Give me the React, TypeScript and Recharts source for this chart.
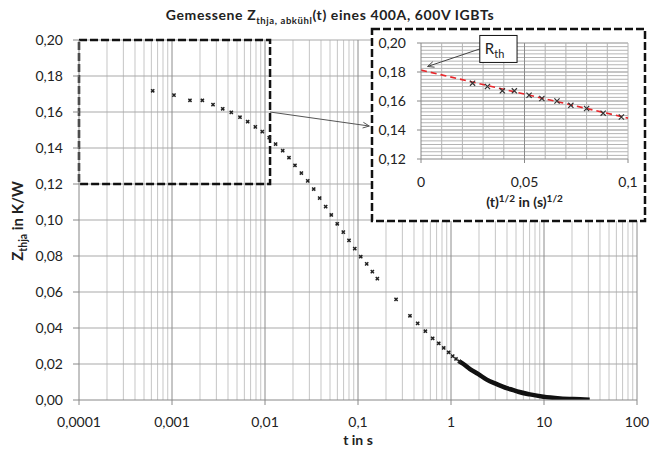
import React from 'react';
import { ComposedChart, Scatter, Line, XAxis, YAxis, ReferenceLine } from 'recharts';

const FONT = 'Lato, "Open Sans", "DejaVu Sans", sans-serif';

// ---- main chart data: cooling curve Z_thja(t) ----
const tValues = [
  0.00062, 0.00105, 0.00156, 0.00212, 0.00276, 0.00351, 0.00434, 0.00538, 0.00651, 0.00787,
  0.00935, 0.0111, 0.0130, 0.0155, 0.0181, 0.0210, 0.0246, 0.0288, 0.0334, 0.0387,
  0.0449, 0.0516, 0.0598, 0.0695, 0.0800, 0.0923, 0.107, 0.124, 0.1426, 0.1614,
  0.2566, 0.362, 0.438, 0.530, 0.635, 0.738, 0.835, 0.944, 1.043, 1.132, 1.228,
];
const zValues = [
  0.1718, 0.1694, 0.1665, 0.1665, 0.1641, 0.1618, 0.1598, 0.1571, 0.1546, 0.1517,
  0.1491, 0.1457, 0.1422, 0.1385, 0.1346, 0.1304, 0.1261, 0.1217, 0.1172, 0.1122,
  0.1074, 0.1028, 0.0979, 0.0933, 0.0887, 0.0841, 0.0796, 0.0756, 0.0713, 0.0674,
  0.0559, 0.0468, 0.0426, 0.0382, 0.0343, 0.0315, 0.0289, 0.0265, 0.0244, 0.0228, 0.0215,
];
// dense tail (markers merge into a thick line)
const tailT = [1.228, 1.36, 1.60, 1.97, 2.42, 3.10, 3.97, 4.68, 5.30, 7.07, 9.83, 14.9, 20.7, 31.0];
const tailZ = [0.0215, 0.0200, 0.0172, 0.0144, 0.0113, 0.0088, 0.0066, 0.0055, 0.0046, 0.0031, 0.0018, 0.0009, 0.0005, 0.0002];

const xTicks = [0.0001, 0.001, 0.01, 0.1, 1, 10, 100];
const xTickLabels = ['0,0001', '0,001', '0,01', '0,1', '1', '10', '100'];
const yTicks = [0, 0.02, 0.04, 0.06, 0.08, 0.1, 0.12, 0.14, 0.16, 0.18, 0.2];
const yTickLabels = ['0,00', '0,02', '0,04', '0,06', '0,08', '0,10', '0,12', '0,14', '0,16', '0,18', '0,20'];
const decades = [0.0001, 0.001, 0.01, 0.1, 1, 10];
const minorMultipliers = [2, 3, 4, 5, 6, 7, 8, 9];
const decadeLines = [0.001, 0.01, 0.1, 1, 10, 100];

const zoomBox = { t1: 0.0001, t2: 0.01133, z1: 0.12, z2: 0.2 };
const zoomArrowT = [0.01133, 0.1323];
const zoomArrowZ = [0.16, 0.1522];

// ---- inset data: Z vs sqrt(t) ----
const insetX = [0.0249, 0.0321, 0.0393, 0.0451, 0.0522, 0.0584, 0.0657, 0.0724, 0.0800, 0.0880, 0.0968];
const insetZ = [0.1723, 0.1700, 0.1670, 0.1670, 0.1640, 0.1617, 0.1600, 0.1570, 0.1548, 0.1516, 0.1490];
const fitX = [0, 0.1];
const fitZ = [0.1813, 0.1482];
const insetXTicks = [0, 0.05, 0.1];
const insetXTickLabels = ['0', '0,05', '0,1'];
const insetYTicks = [0.12, 0.14, 0.16, 0.18, 0.2];
const insetYTickLabels = ['0,12', '0,14', '0,16', '0,18', '0,20'];
const insetVGrid = [0.01, 0.02, 0.03, 0.04, 0.05, 0.06, 0.07, 0.08, 0.09, 0.1];
const insetHGridStep = 0.0025;
const rthBox = { x1: 0.0284, x2: 0.0464, y1: 0.1866, y2: 0.2052 };
const rthArrowX = [0.0284, 0.0032];
const rthArrowZ = [0.1959, 0.1838];

const mainData = tValues.map((t, i) => ({ t, z: zValues[i] }));
const tailData = tailT.map((t, i) => ({ t, z: tailZ[i] }));
const minorX = decades.flatMap((d) => minorMultipliers.map((m) => +(d * m).toPrecision(3)));
const insetData = insetX.map((x, i) => ({ x, z: insetZ[i] }));
const fitData = fitX.map((x, i) => ({ x, z: fitZ[i] }));
const insetHGrid: number[] = [];
for (let i = 1; i <= 32; i++) insetHGrid.push(+(0.12 + i * insetHGridStep).toFixed(4));

const fmtFrom = (ticks: number[], labels: string[]) => (v: number) => {
  const i = ticks.findIndex((t) => Math.abs(t - v) < 1e-9);
  return i >= 0 ? labels[i] : String(v);
};

const arrowShape = (color: string) => (props: any) => {
  const { x1, y1, x2, y2 } = props;
  const ang = Math.atan2(y2 - y1, x2 - x1);
  const L = 7;
  const a = 0.42;
  const p1x = x2 - L * Math.cos(ang - a);
  const p1y = y2 - L * Math.sin(ang - a);
  const p2x = x2 - L * Math.cos(ang + a);
  const p2y = y2 - L * Math.sin(ang + a);
  return (
    <g>
      <line x1={x1} y1={y1} x2={x2} y2={y2} stroke={color} strokeWidth={1} />
      <path d={`M${p1x},${p1y}L${x2},${y2}L${p2x},${p2y}`} fill="none" stroke={color} strokeWidth={1} />
    </g>
  );
};

// a segment given by two diagonal corners, drawn as a dashed rectangle
const dashedBoxShape = (props: any) => {
  const { x1, y1, x2, y2 } = props;
  const x = Math.min(x1, x2);
  const y = Math.min(y1, y2);
  return (
    <rect
      x={x}
      y={y}
      width={Math.abs(x2 - x1)}
      height={Math.abs(y2 - y1)}
      fill="none"
      stroke="#111"
      strokeWidth={2.5}
      strokeDasharray="8 3"
    />
  );
};

const rthShape = (props: any) => {
  const { x1, y1, x2, y2 } = props;
  const x = Math.min(x1, x2);
  const y = Math.min(y1, y2);
  return (
    <g>
      <rect x={x} y={y} width={Math.abs(x2 - x1)} height={Math.abs(y2 - y1)} fill="#fff" stroke="#111" strokeWidth={1} />
      <text x={x + 5} y={y + 19} fontFamily={FONT} fontSize={15} fill="#222">
        R<tspan dy={4} fontSize={11}>th</tspan>
      </text>
    </g>
  );
};

const MainMarker = (props: any) => {
  const { cx, cy } = props;
  const s = 1.6;
  return (
    <path
      d={`M${cx - s},${cy - s}L${cx + s},${cy + s}M${cx + s},${cy - s}L${cx - s},${cy + s}`}
      stroke="#222"
      strokeWidth={1.5}
      fill="none"
    />
  );
};

const InsetMarker = (props: any) => {
  const { cx, cy } = props;
  const s = 2.6;
  return (
    <path
      d={`M${cx - s},${cy - s}L${cx + s},${cy + s}M${cx + s},${cy - s}L${cx - s},${cy + s}`}
      stroke="#333"
      strokeWidth={1.2}
      fill="none"
    />
  );
};

const MainYLabel = (props: any) => {
  const { viewBox } = props;
  const cx = viewBox.x + 13;
  const cy = viewBox.y + viewBox.height / 2 + 1;
  return (
    <text
      x={cx}
      y={cy}
      transform={`rotate(-90, ${cx}, ${cy})`}
      textAnchor="middle"
      fontFamily={FONT}
      fontWeight="bold"
      fontSize={15}
      fill="#222"
    >
      Z<tspan dy={4} fontSize={10.5}>thja</tspan>
      <tspan dy={-4}> in K/W</tspan>
    </text>
  );
};

const MainXLabel = (props: any) => {
  const { viewBox } = props;
  return (
    <text
      x={viewBox.x + viewBox.width / 2}
      y={viewBox.y + 45}
      textAnchor="middle"
      fontFamily={FONT}
      fontWeight="bold"
      fontSize={14}
      fill="#222"
    >
      t in s
    </text>
  );
};

const InsetXLabel = (props: any) => {
  const { viewBox } = props;
  return (
    <text
      x={viewBox.x + viewBox.width / 2}
      y={viewBox.y + 48}
      textAnchor="middle"
      fontFamily={FONT}
      fontWeight="bold"
      fontSize={14}
      fill="#222"
    >
      (t)<tspan dy={-5} fontSize={10}>1/2</tspan>
      <tspan dy={5}> in (s)</tspan>
      <tspan dy={-5} fontSize={10}>1/2</tspan>
    </text>
  );
};

const tickStyle = { fill: '#222', fontSize: 14, fontFamily: FONT };

export default function App() {
  return (
    <div style={{ position: 'absolute', left: 0, top: 0, width: 658, height: 452, background: '#fff' }}>
      <div style={{ position: 'absolute', left: 0, top: 0 }}>
        <ComposedChart width={658} height={452} margin={{ top: 40, right: 21, bottom: 0, left: 10 }}>
          <XAxis
            type="number"
            dataKey="t"
            scale="log"
            domain={[0.0001, 100]}
            ticks={xTicks}
            interval={0}
            allowDataOverflow
            tickFormatter={fmtFrom(xTicks, xTickLabels)}
            tick={tickStyle}
            tickSize={5}
            tickMargin={12}
            stroke="#888"
            height={52}
            label={<MainXLabel />}
          />
          <YAxis
            type="number"
            dataKey="z"
            domain={[0, 0.2]}
            ticks={yTicks}
            interval={0}
            allowDataOverflow
            tickFormatter={fmtFrom(yTicks, yTickLabels)}
            tick={tickStyle}
            tickSize={6}
            tickMargin={10}
            stroke="#888"
            width={69}
            label={<MainYLabel />}
          />
          {minorX.map((v) => (
            <ReferenceLine key={'mx' + v} x={v} stroke="#c6c6c6" strokeWidth={1} />
          ))}
          {yTicks.slice(1).map((v) => (
            <ReferenceLine key={'hy' + v} y={v} stroke="#a9a9a9" strokeWidth={1} />
          ))}
          {decadeLines.map((v) => (
            <ReferenceLine key={'dx' + v} x={v} stroke="#8c8c8c" strokeWidth={1} />
          ))}
          <ReferenceLine
            segment={[
              { x: zoomBox.t1, y: zoomBox.z2 },
              { x: zoomBox.t2, y: zoomBox.z1 },
            ]}
            ifOverflow="visible"
            shape={dashedBoxShape}
          />
          <ReferenceLine
            segment={[
              { x: zoomArrowT[0], y: zoomArrowZ[0] },
              { x: zoomArrowT[1], y: zoomArrowZ[1] },
            ]}
            ifOverflow="visible"
            shape={arrowShape('#555')}
          />
          <Line
            data={tailData}
            dataKey="z"
            type="monotone"
            stroke="#111"
            strokeWidth={4.5}
            dot={false}
            activeDot={false}
            isAnimationActive={false}
          />
          <Scatter data={mainData} dataKey="z" shape={<MainMarker />} isAnimationActive={false} />
        </ComposedChart>
      </div>

      <svg width={658} height={452} style={{ position: 'absolute', left: 0, top: 0 }}>
        <text
          x={330}
          y={20}
          textAnchor="middle"
          fontFamily={FONT}
          fontWeight="bold"
          fontSize={14}
          letterSpacing={0.6}
          fill="#222"
        >
          Gemessene Z<tspan dy={4} fontSize={9.5}>thja, abkühl</tspan>
          <tspan dy={-4}>(t) eines 400A, 600V IGBTs</tspan>
        </text>
        <rect x={372} y={29} width={273} height={192} fill="#fff" stroke="#111" strokeWidth={2.5} strokeDasharray="8 3" />
      </svg>

      <div style={{ position: 'absolute', left: 371, top: 28 }}>
        <ComposedChart width={275} height={194} margin={{ top: 15, right: 18, bottom: 0, left: 0 }}>
          <XAxis
            type="number"
            dataKey="x"
            domain={[0, 0.1]}
            ticks={insetXTicks}
            interval={0}
            allowDataOverflow
            tickFormatter={fmtFrom(insetXTicks, insetXTickLabels)}
            tick={tickStyle}
            tickSize={4}
            tickMargin={14}
            stroke="#888"
            height={63}
            label={<InsetXLabel />}
          />
          <YAxis
            type="number"
            dataKey="z"
            domain={[0.12, 0.2]}
            ticks={insetYTicks}
            interval={0}
            allowDataOverflow
            tickFormatter={fmtFrom(insetYTicks, insetYTickLabels)}
            tick={tickStyle}
            tickSize={4}
            tickMargin={11}
            stroke="#888"
            width={50}
          />
          {insetHGrid.map((v) => (
            <ReferenceLine
              key={'ih' + v}
              y={v}
              stroke={Math.abs(v * 50 - Math.round(v * 50)) < 1e-6 ? '#8c8c8c' : '#b4b4b4'}
              strokeWidth={1}
            />
          ))}
          {insetVGrid.map((v) => (
            <ReferenceLine key={'iv' + v} x={v} stroke={v === 0.05 ? '#8c8c8c' : '#b4b4b4'} strokeWidth={1} />
          ))}
          <Scatter data={insetData} dataKey="z" shape={<InsetMarker />} isAnimationActive={false} />
          <Line
            data={fitData}
            dataKey="z"
            type="linear"
            stroke="#e8262b"
            strokeWidth={1.6}
            strokeDasharray="6 4"
            dot={false}
            activeDot={false}
            isAnimationActive={false}
          />
          <ReferenceLine
            segment={[
              { x: rthArrowX[0], y: rthArrowZ[0] },
              { x: rthArrowX[1], y: rthArrowZ[1] },
            ]}
            ifOverflow="visible"
            shape={arrowShape('#444')}
          />
          <ReferenceLine
            segment={[
              { x: rthBox.x1, y: rthBox.y2 },
              { x: rthBox.x2, y: rthBox.y1 },
            ]}
            ifOverflow="visible"
            shape={rthShape}
          />
        </ComposedChart>
      </div>
    </div>
  );
}
